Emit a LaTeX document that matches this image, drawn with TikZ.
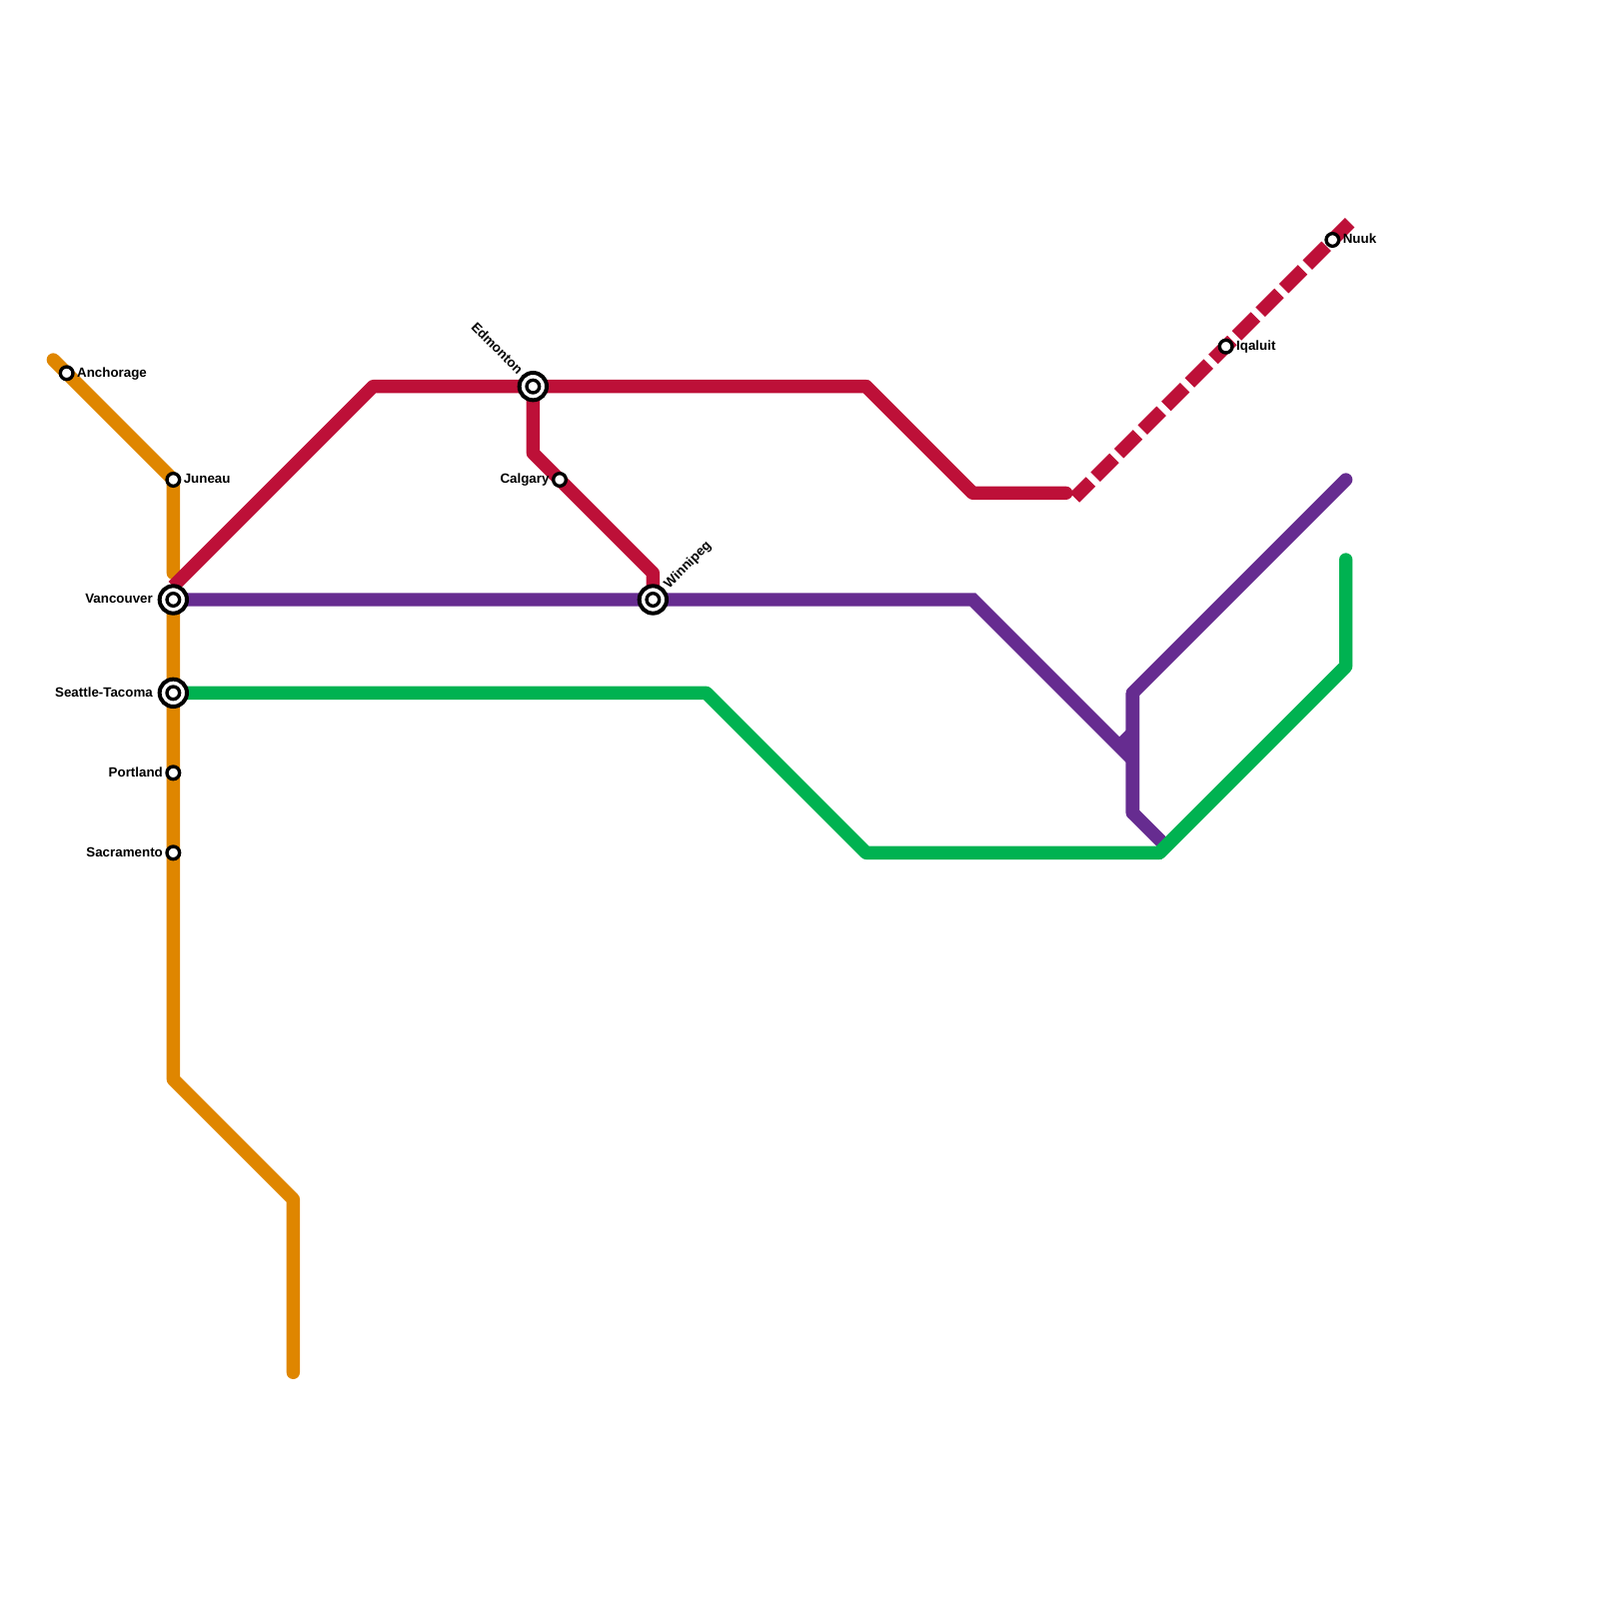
\documentclass[tikz,border=0pt]{standalone}
\usepackage{fontspec}
\setmainfont{Liberation Sans}
\usetikzlibrary{positioning,backgrounds}
\definecolor{LineOrange}{HTML}{DF8600}
\definecolor{LineRed}{HTML}{BD1038}
\definecolor{LinePurple}{HTML}{662C90}
\definecolor{LineGreen}{HTML}{00B251}
\tikzset{
  metroline/.style={line width=2mm,line cap=round,line join=round},
  stublink/.style={line width=2mm,line cap=butt},
  dashlink/.style={line width=2mm,line cap=butt,dash pattern=on 4mm off 1mm,dash phase=0.6mm},
  station/.style={circle,draw=black,fill=white,line width=0.5mm,minimum size=1.9mm,inner sep=0pt},
  hubring/.style={circle,draw=black,fill=white,line width=0.6mm,minimum size=4.1mm,inner sep=0pt},
  stationlabel/.style={inner sep=0pt,text height=3.3pt,text depth=0pt,font=\fontsize{5.7}{6}\selectfont\bfseries}
}

\begin{document}
\begin{tikzpicture}[x=2mm,y=-2mm]
  \useasboundingbox (0,0) rectangle (120,120);

  \node[station] (anchorage) at (5,28) {};
  \node[station] (juneau) at (13,36) {};
  \node[hubring] (vancouverhub) at (13,45) {};
  \node[station] (vancouver) at (13,45) {};
  \node[hubring] (seattlehub) at (13,52) {};
  \node[station] (seattle) at (13,52) {};
  \node[station] (portland) at (13,58) {};
  \node[station] (sacramento) at (13,64) {};
  \node[hubring] (edmontonhub) at (40,29) {};
  \node[station] (edmonton) at (40,29) {};
  \node[station] (calgary) at (42,36) {};
  \node[hubring] (winnipeghub) at (49,45) {};
  \node[station] (winnipeg) at (49,45) {};
  \node[station] (iqaluit) at (92,26) {};
  \node[station] (nuuk) at (100,18) {};

  \node[stationlabel,right=1.5mm of anchorage.center] (anchoragetext) {Anchorage};
  \node[stationlabel,right=1.5mm of juneau.center] (juneautext) {Juneau};
  \node[stationlabel,left=3mm of vancouver.center] (vancouvertext) {Vancouver};
  \node[stationlabel,left=3mm of seattle.center] (seattletext) {Seattle-Tacoma};
  \node[stationlabel,left=1.5mm of portland.center] (portlandtext) {Portland};
  \node[stationlabel,left=1.5mm of sacramento.center] (sacramentotext) {Sacramento};
  \node[stationlabel,left=1.5mm of calgary.center] (calgarytext) {Calgary};
  \node[stationlabel,right=1.5mm of iqaluit.center] (iqaluittext) {Iqaluit};
  \node[stationlabel,right=1.5mm of nuuk.center] (nuuktext) {Nuuk};
  \node[stationlabel,rotate=-45,anchor=east] (edmontontext) at ([shift={(-1.9mm,2.1mm)}]edmonton.center) {Edmonton};
  \node[stationlabel,rotate=45,anchor=west] (winnipegtext) at ([shift={(2mm,2mm)}]winnipeg.center) {Winnipeg};

  \coordinate (orangestart) at (4,27);
  \coordinate (orangestop) at (13,43);
  \coordinate (orangebend) at (13,81);
  \coordinate (orangeknee) at (22,90);
  \coordinate (orangeend) at (22,103);
  \coordinate (redstart) at (13,44);
  \coordinate (redtop) at (28,29);
  \coordinate (redeast) at (65,29);
  \coordinate (reddip) at (73,37);
  \coordinate (redend) at (80,37);
  \coordinate (redsouth) at (40,34);
  \coordinate (redknee) at (49,43);
  \coordinate (dashstart) at (80.65,37.35);
  \coordinate (dashend) at (101.5,16.5);
  \coordinate (purplebend) at (73,45);
  \coordinate (purplemeet) at (85,57);
  \coordinate (purplestub) at (84,56);
  \coordinate (purplestubtop) at (85,55);
  \coordinate (purpleend) at (101,36);
  \coordinate (purpletop) at (85,52);
  \coordinate (purplelow) at (85,61);
  \coordinate (purpleunder) at (87.5,63.5);
  \coordinate (greenbend) at (53,52);
  \coordinate (greenlow) at (65,64);
  \coordinate (greenrise) at (87,64);
  \coordinate (greenknee) at (101,50);
  \coordinate (greenend) at (101,42);

  \begin{scope}[on background layer]
    \draw[metroline,LineOrange] (orangestart)--(juneau.center)--(orangestop);
    \draw[metroline,LineOrange] (vancouver.center)--(portland.center)--(sacramento.center)--(orangebend)--(orangeknee)--(orangeend);
    \draw[metroline,LineRed,line cap=butt] (redstart)--(redtop)--(edmonton.center)--(redeast)--(reddip);
    \draw[metroline,LineRed] (redeast)--(reddip)--(redend);
    \draw[metroline,LineRed,line cap=butt] (edmonton.center)--(redsouth)--(calgary.center)--(redknee)--(winnipeg.center);
    \draw[dashlink,LineRed] (dashstart)--(iqaluit.center)--(nuuk.center)--(dashend);
    \draw[stublink,LinePurple] (vancouver.center)--(winnipeg.center)--(purplebend)--(purplemeet);
    \draw[stublink,LinePurple] (purplestub)--(purplestubtop);
    \draw[metroline,LinePurple,line cap=butt] (purpleunder)--(purplelow)--(purpletop);
    \draw[metroline,LinePurple] (purplelow)--(purpletop)--(purpleend);
    \draw[metroline,LineGreen,line cap=butt] (seattle.center)--(greenbend)--(greenlow)--(greenrise)--(greenknee);
    \draw[metroline,LineGreen] (greenrise)--(greenknee)--(greenend);
  \end{scope}
\end{tikzpicture}
\end{document}
